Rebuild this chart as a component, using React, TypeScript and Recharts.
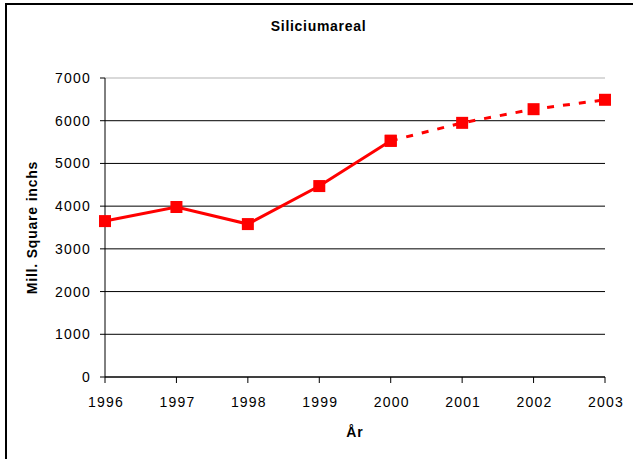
import React from "react";
import {
  LineChart,
  Line,
  XAxis,
  YAxis,
  CartesianGrid,
  ReferenceLine,
  Label,
} from "recharts";

const years = ["1996", "1997", "1998", "1999", "2000", "2001", "2002", "2003"];
const actual: (number | null)[] = [3650, 3980, 3580, 4470, 5530, null, null, null];
const forecast: (number | null)[] = [null, null, null, null, 5530, 5950, 6270, 6490];
const yTicks = [0, 1000, 2000, 3000, 4000, 5000, 6000, 7000];

const data = years.map((y, i) => ({ year: y, actual: actual[i], forecast: forecast[i] }));

const FONT = "'Liberation Sans', Arial, sans-serif";

const SquareDot = (props: any) => {
  const { cx, cy, value } = props;
  if (value == null || cx == null || cy == null) return null;
  return <rect x={cx - 6} y={cy - 6} width={12} height={12} fill="#FF0000" />;
};

export default function App() {
  return (
    <div
      style={{
        position: "absolute",
        left: 0,
        top: 0,
        width: 633,
        height: 459,
        background: "#fff",
        fontFamily: FONT,
      }}
    >
      <div
        style={{
          position: "absolute",
          left: 5,
          top: 3,
          width: 628,
          height: 456,
          borderTop: "2px solid #000",
          borderLeft: "2px solid #000",
        }}
      />
      <div
        style={{
          position: "absolute",
          left: 2,
          top: 18,
          width: 633,
          textAlign: "center",
          fontWeight: "bold",
          fontSize: 14,
          color: "#000",
          letterSpacing: 0.7,
        }}
      >
        Siliciumareal
      </div>
      <LineChart
        width={633}
        height={459}
        data={data}
        margin={{ top: 78, right: 28, left: 45, bottom: 52 }}
        style={{ position: "absolute", left: 0, top: 0 }}
      >
        <CartesianGrid vertical={false} stroke="#000" strokeWidth={1} />
        <ReferenceLine y={7000} stroke="#d9d9d9" strokeWidth={2} />
        <XAxis
          dataKey="year"
          height={30}
          axisLine={{ stroke: "#000" }}
          tickLine={{ stroke: "#000" }}
          tickSize={6}
          tick={{ fill: "#000", fontSize: 14, fontFamily: FONT, letterSpacing: 1.2, dx: 1 }}
          tickMargin={14}
          interval={0}
        >
          <Label
            value="År"
            position="bottom"
            offset={20}
            style={{ fontWeight: "bold", fontSize: 14, fill: "#000", fontFamily: FONT, letterSpacing: 1 }}
          />
        </XAxis>
        <YAxis
          width={60}
          domain={[0, 7000]}
          ticks={yTicks}
          interval={0}
          axisLine={{ stroke: "#000" }}
          tickLine={{ stroke: "#000" }}
          tickSize={5}
          tickMargin={9}
          tick={{ fill: "#000", fontSize: 14, fontFamily: FONT, letterSpacing: 1.2 }}
        >
          <Label
            value="Mill. Square inchs"
            angle={-90}
            position="insideLeft"
            offset={-13}
            style={{
              fontWeight: "bold",
              fontSize: 14,
              fill: "#000",
              fontFamily: FONT,
              textAnchor: "middle",
              letterSpacing: 0.8,
            }}
          />
        </YAxis>
        <Line
          dataKey="actual"
          stroke="#FF0000"
          strokeWidth={3}
          dot={<SquareDot />}
          activeDot={false}
          isAnimationActive={false}
          connectNulls={false}
        />
        <Line
          dataKey="forecast"
          stroke="#FF0000"
          strokeWidth={3}
          strokeDasharray="7 9"
          dot={<SquareDot />}
          activeDot={false}
          isAnimationActive={false}
          connectNulls={false}
        />
      </LineChart>
    </div>
  );
}
